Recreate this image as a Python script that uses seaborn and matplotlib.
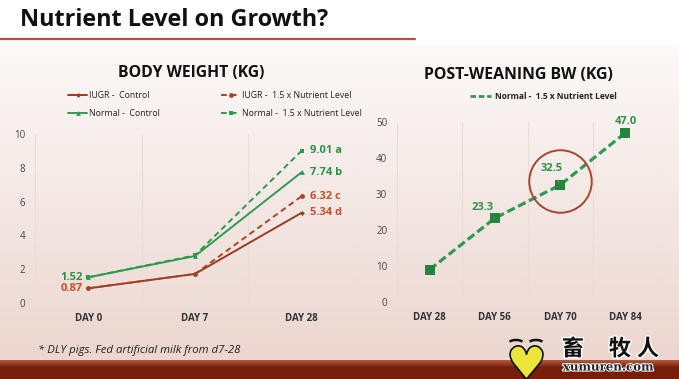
import numpy as np
import pandas as pd
import matplotlib
matplotlib.use("Agg")
import matplotlib.pyplot as plt
import matplotlib.patheffects as pe
from matplotlib.lines import Line2D
from matplotlib.patches import Arc
import seaborn as sns

# data
days_bw = ["DAY 0", "DAY 7", "DAY 28"]
iugr_control = [0.87, 1.72, 5.34]
iugr_nutrient = [0.87, 1.72, 6.32]
normal_control = [1.52, 2.78, 7.74]
normal_nutrient = [1.52, 2.82, 9.01]
end_letters = ["d", "c", "b", "a"]

days_pw = ["DAY 28", "DAY 56", "DAY 70", "DAY 84"]
post_weaning = [9.0, 23.3, 32.5, 47.0]

sns.set_theme(style="white")
plt.rcParams["font.family"] = ["Open Sans", "DejaVu Sans"]

RED = "#9e3a24"
RED_LBL = "#c4502c"
GREEN = "#2f9a52"
GREEN_LBL = "#2e9148"
GRID = "#e6dcd9"

fig = plt.figure(figsize=(6.79, 3.79), dpi=100)
H, W = 379, 679

# background: white header, pink gradient, dark red band at the bottom
bg = np.ones((H, W, 3))
top, band = 45, 360
for r in range(top, band):
    t = (r - top) / (band - top)
    bg[r] = np.array([252, 249, 248]) * (1 - t) / 255 + np.array([236, 214, 207]) * t / 255
for r in range(band, H):
    t = min(1.0, (r - band) / 7)
    bg[r] = np.array([176, 86, 60]) * (1 - t) / 255 + np.array([118, 30, 10]) * t / 255
bga = fig.add_axes([0, 0, 1, 1], zorder=-5)
bga.imshow(bg, aspect="auto", extent=[0, 1, 0, 1])

fig.text(20 / W, 1 - 20 / H, "Nutrient Level on Growth?", fontsize=16.8,
         fontweight="bold", color="#111111", va="center")
fig.add_artist(Line2D([0, 415 / W], [1 - 39 / H] * 2, color="#b05444", lw=1.6))


def style_axes(ax, ncat, ymax, ystep):
    ax.set_facecolor("none")
    for s in ax.spines.values():
        s.set_visible(False)
    for b in np.arange(ncat + 1) - 0.5:
        ax.axvline(b, color=GRID, lw=0.8, zorder=0)
    ax.set_xlim(-0.5, ncat - 0.5)
    ax.set_ylim(0, ymax)
    ax.set_yticks(np.arange(0, ymax + 1, ystep))
    ax.tick_params(axis="y", length=0, pad=7, labelsize=7, labelcolor="#444444")
    ax.tick_params(axis="x", length=0, pad=7, labelsize=7, labelcolor="#333333")
    for lbl in ax.get_xticklabels():
        lbl.set_fontweight("bold")
    ax.set_xlabel("")
    ax.set_ylabel("")


# ---- left chart: body weight
ax1 = fig.add_axes([35 / W, 1 - 303 / H, 320 / W, 169 / H])
series = [
    ("IUGR -  Control", iugr_control, RED, "-", "D", 2.5),
    ("IUGR -  1.5 x Nutrient Level", iugr_nutrient, "#a8432b", (0, (3, 2)), "o", 3.5),
    ("Normal -  Control", normal_control, GREEN, "-", "^", 3.5),
    ("Normal -  1.5 x Nutrient Level", normal_nutrient, "#2a9a50", (0, (3, 2)), "s", 3.5),
]
for name, vals, col, ls, mk, ms in series:
    df = pd.DataFrame({"day": days_bw, "kg": vals})
    sns.lineplot(data=df, x="day", y="kg", ax=ax1, color=col, lw=1.4, linestyle=ls,
                 marker=mk, markersize=ms, markeredgewidth=0, label=name, sort=False)
style_axes(ax1, len(days_bw), 10, 2)

for (name, vals, col, ls, mk, ms), letter in zip(series, end_letters):
    c = GREEN_LBL if name.startswith("Normal") else RED_LBL
    ax1.annotate(f"{vals[-1]:.2f} {letter}", (len(days_bw) - 1, vals[-1]), xytext=(6, 0),
                 textcoords="offset points", va="center", ha="left",
                 fontsize=8, fontweight="bold", color=c)
ax1.annotate(f"{normal_control[0]:.2f}", (0, normal_control[0]), xytext=(-4, 0),
             textcoords="offset points", va="center", ha="right",
             fontsize=8, fontweight="bold", color=GREEN_LBL)
ax1.annotate(f"{iugr_control[0]:.2f}", (0, iugr_control[0]), xytext=(-4, 0),
             textcoords="offset points", va="center", ha="right",
             fontsize=8, fontweight="bold", color=RED_LBL)

# legend: controls in the first column, 1.5x nutrient in the second
h, l = ax1.get_legend_handles_labels()
order = [0, 2, 1, 3]
ax1.legend([h[i] for i in order], [l[i] for i in order], ncol=2, loc="center",
           bbox_to_anchor=(0.5625, 1.175), frameon=False,
           fontsize=6.3, handlelength=2.2, handletextpad=0.2, columnspacing=7.0,
           labelspacing=1.0, labelcolor="#222222")
fig.text(191 / W, 1 - 73 / H, "BODY WEIGHT (KG)", fontsize=11.3, fontweight="bold",
         color="#111111", ha="center", va="center")

# ---- right chart: post-weaning
ax2 = fig.add_axes([397 / W, 1 - 302 / H, 261 / W, 180 / H])
dfp = pd.DataFrame({"day": days_pw, "kg": post_weaning})
sns.lineplot(data=dfp, x="day", y="kg", ax=ax2, color=GREEN, lw=2.3,
             linestyle=(0, (2.6, 1.2)), marker="s", markersize=6.5,
             markerfacecolor="#23843f", markeredgewidth=0, sort=False)
style_axes(ax2, len(days_pw), 50, 10)

lbl_offsets = [None, (-9, 8), (-6, 12), (0, 8)]
for i, (v, off) in enumerate(zip(post_weaning, lbl_offsets)):
    if off is None:
        continue
    arrow = dict(arrowstyle="-", color="#8a9a8a", lw=0.6, shrinkA=2, shrinkB=2) if off[0] else None
    ax2.annotate(f"{v:.1f}", (i, v), xytext=off, textcoords="offset points",
                 ha="center", va="center", fontsize=8, fontweight="bold",
                 color=GREEN_LBL, arrowprops=arrow)

# red circle around day 70
ax2.plot([days_pw[2]], [post_weaning[2] + 1], marker="o", markersize=45,
         markerfacecolor="none", markeredgecolor="#a8452e", markeredgewidth=1.4)

ax2.legend([Line2D([], [], color=GREEN, lw=2, linestyle=(0, (2, 1)))],
           ["Normal -  1.5 x Nutrient Level"], loc="center",
           bbox_to_anchor=(0.56, 1.14), frameon=False, fontsize=6, handlelength=2.6,
           handletextpad=0.4, labelcolor="#222222")
for t in ax2.get_legend().get_texts():
    t.set_fontweight("bold")
fig.text(518 / W, 1 - 75 / H, "POST-WEANING BW (KG)", fontsize=11.4, fontweight="bold",
         color="#111111", ha="center", va="center")

# footnote
fig.text(38 / W, 1 - 350 / H, "* DLY pigs. Fed artificial milk from d7-28",
         fontsize=8.2, style="italic", color="#222222", va="center")

# watermark logo (heart drawn as a marker so it is not clipped as text)
bga.plot([526 / W], [1 - 362 / H], marker="$\u2665$", markersize=24,
         markerfacecolor="#ece53a", markeredgecolor="#111111", markeredgewidth=1.2)
bga.set_xlim(0, 1)
bga.set_ylim(0, 1)
bga.axis("off")
for ex in (516, 536):
    fig.add_artist(Arc((ex / 100, (H - 344) / 100), 0.16, 0.08, theta1=20, theta2=160,
                       transform=fig.dpi_scale_trans, color="#111111", lw=1.8))
for ch, cx in zip("畜牧人", (573, 620, 648)):
    fig.text(cx / W, 1 - 349 / H, ch, fontsize=16, fontweight="bold", color="#111111",
             ha="center", va="center", family=["Noto Sans CJK SC", "DejaVu Sans"],
             path_effects=[pe.withStroke(linewidth=2, foreground="white")])
fig.text(608 / W, 1 - 367 / H, "xumuren.com", fontsize=8.5, fontweight="bold",
         color="#222222", ha="center", va="center", family=["DejaVu Serif"],
         path_effects=[pe.withStroke(linewidth=1.5, foreground="white")])

fig.savefig("out.png", dpi=100)
